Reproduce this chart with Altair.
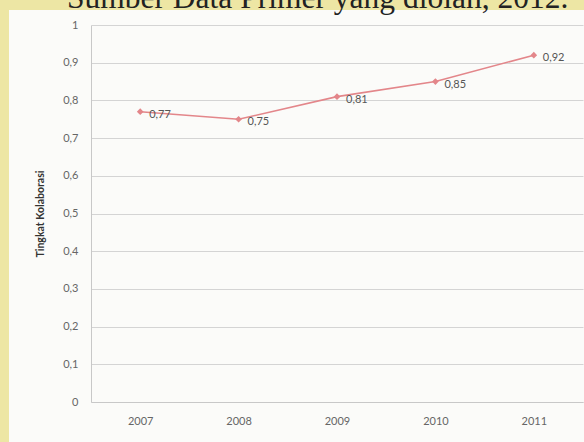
import altair as alt
import pandas as pd

years = ["2007", "2008", "2009", "2010", "2011"]
values = [0.77, 0.75, 0.81, 0.85, 0.92]
labels = ["0,77", "0,75", "0,81", "0,85", "0,92"]
y_title = "Tingkat Kolaborasi"
source_text = "Sumber Data Primer yang diolah, 2012."

df = pd.DataFrame({"year": years, "value": values, "label": labels})
one = pd.DataFrame({"t": [source_text]})

W, H = 492, 377
PL, PT = 91, 25
YELLOW = "#ede6a4"
LINE = "#e3868a"

x_enc = alt.X("year:N", sort=years,
              scale=alt.Scale(type="point", padding=0.5),
              axis=alt.Axis(title=None, labelAngle=0, ticks=False,
                            domainColor="#c8c8c8", labelColor="#666666",
                            labelFont="Lato", labelFontSize=11,
                            labelPadding=13, grid=False))
y_enc = alt.Y("value:Q",
              scale=alt.Scale(domain=[0, 1], nice=False, zero=True),
              axis=alt.Axis(title=y_title, values=[i / 10 for i in range(11)],
                            labelExpr="replace(format(datum.value, '.1~f'), '.', ',')",
                            ticks=False, domainColor="#c8c8c8",
                            gridColor="#d4d4d4", gridWidth=1,
                            labelColor="#666666", labelFont="Lato",
                            labelFontSize=11, labelPadding=13,
                            titleFont="Lato", titleFontSize=10.5,
                            titleFontWeight="bold", titleColor="#333333",
                            titleX=40 - PL, titleY=H / 2, titleAngle=-90,
                            titleAlign="center", titleBaseline="middle"))

left_band = alt.Chart(one).mark_rect(color=YELLOW).encode(
    x=alt.value(-PL), x2=alt.value(9 - PL),
    y=alt.value(-PT), y2=alt.value(442 - PT))
top_band = alt.Chart(one).mark_rect(color=YELLOW).encode(
    x=alt.value(-PL), x2=alt.value(584 - PL),
    y=alt.value(-PT), y2=alt.value(10 - PT))
src = alt.Chart(one).mark_text(font="Liberation Serif", fontSize=31.5,
                               align="left", baseline="alphabetic",
                               color="#222222").encode(
    x=alt.value(67 - PL), y=alt.value(8 - PT), text="t:N")

base = alt.Chart(df)
line = base.mark_line(color=LINE, strokeWidth=1.6).encode(x=x_enc, y=y_enc)
pts = base.mark_point(shape="diamond", filled=True, color=LINE, size=45,
                      opacity=1).encode(x=x_enc, y=y_enc)
txt = base.mark_text(align="left", baseline="middle", dx=9, dy=3,
                     font="Lato", fontSize=11, color="#555555").encode(
    x=x_enc, y=y_enc, text="label:N")

chart = alt.layer(left_band, top_band, src, line, pts, txt).properties(
    width=W, height=H,
    autosize=alt.AutoSizeParams(type="none"),
    padding={"left": PL, "top": PT, "right": 584 - PL - W, "bottom": 442 - PT - H},
    background="#fbfbf9",
).configure_view(stroke=None)

chart.save("out.html", embed_options={"renderer": "svg", "actions": False})
